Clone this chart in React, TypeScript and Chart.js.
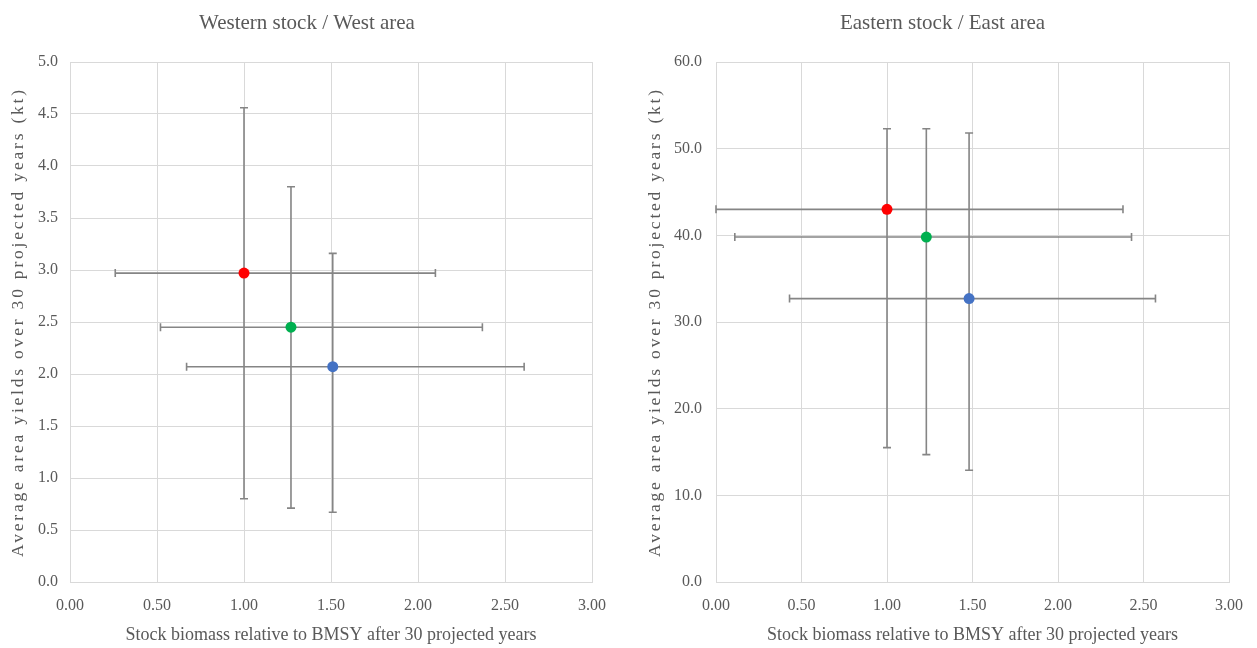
import React, { useEffect, useRef } from "react";
import { Chart, registerables } from "chart.js";

Chart.register(...registerables);

// ---------- data ----------
const seriesColors = ["#ff0000", "#00b050", "#4472c4"];

const westX = [1.0, 1.27, 1.51];
const westY = [2.97, 2.45, 2.07];
const westXLow = [0.26, 0.52, 0.67];
const westXHigh = [2.1, 2.37, 2.61];
const westYLow = [0.8, 0.71, 0.67];
const westYHigh = [4.56, 3.8, 3.16];

const eastX = [1.0, 1.23, 1.48];
const eastY = [43.0, 39.8, 32.7];
const eastXLow = [0.0, 0.11, 0.43];
const eastXHigh = [2.38, 2.43, 2.57];
const eastYLow = [15.5, 14.7, 12.9];
const eastYHigh = [52.3, 52.3, 51.8];

const xAxisTitle = "Stock biomass relative to BMSY after 30 projected years";
const yAxisTitle = "Average area yields over 30 projected years (kt)";
const westTitle = "Western stock / West area";
const eastTitle = "Eastern stock / East area";

const FONT = "'Liberation Serif', 'Times New Roman', serif";
const TEXT = "#595959";
const GRID = "#d9d9d9";
const ERR = "#858585";

type Props = {
  left: number;
  width: number;
  title: string;
  xs: number[];
  ys: number[];
  xLow: number[];
  xHigh: number[];
  yLow: number[];
  yHigh: number[];
  yMax: number;
  yStep: number;
  yAxisWidth: number;
  rightPad: number;
  rightGap: number;
  yTickPad: number;
  yTitleX: number;
};

function ErrorScatter(p: Props) {
  const ref = useRef<HTMLCanvasElement | null>(null);

  useEffect(() => {
    if (!ref.current) return;

    const errorBars = {
      id: "errorBars",
      beforeDatasetsDraw(chart: any) {
        const { ctx } = chart;
        const xs = chart.scales.x;
        const ys = chart.scales.y;
        const cap = 4;
        ctx.save();
        ctx.strokeStyle = ERR;
        ctx.lineWidth = 1.6;
        for (let i = 0; i < p.xs.length; i++) {
          const px = xs.getPixelForValue(p.xs[i]);
          const py = ys.getPixelForValue(p.ys[i]);
          const x0 = xs.getPixelForValue(p.xLow[i]);
          const x1 = xs.getPixelForValue(p.xHigh[i]);
          const y0 = ys.getPixelForValue(p.yLow[i]);
          const y1 = ys.getPixelForValue(p.yHigh[i]);
          ctx.beginPath();
          ctx.moveTo(x0, py);
          ctx.lineTo(x1, py);
          ctx.moveTo(x0, py - cap);
          ctx.lineTo(x0, py + cap);
          ctx.moveTo(x1, py - cap);
          ctx.lineTo(x1, py + cap);
          ctx.moveTo(px, y0);
          ctx.lineTo(px, y1);
          ctx.moveTo(px - cap, y0);
          ctx.lineTo(px + cap, y0);
          ctx.moveTo(px - cap, y1);
          ctx.lineTo(px + cap, y1);
          ctx.stroke();
        }
        ctx.restore();
      },
    };

    const yTitle = {
      id: "yTitle",
      afterDraw(chart: any) {
        const { ctx, chartArea } = chart;
        ctx.save();
        ctx.translate(p.yTitleX, (chartArea.top + chartArea.bottom) / 2);
        ctx.rotate(-Math.PI / 2);
        ctx.font = `17.5px ${FONT}`;
        (ctx as any).letterSpacing = "2.8px";
        ctx.fillStyle = TEXT;
        ctx.textAlign = "center";
        ctx.textBaseline = "middle";
        ctx.fillText(yAxisTitle, 0, 0);
        ctx.restore();
      },
    };

    const chart = new Chart(ref.current, {
      type: "scatter",
      data: {
        datasets: p.xs.map((x, i) => ({
          label: "s" + i,
          data: [{ x, y: p.ys[i] }],
          backgroundColor: seriesColors[i],
          borderColor: seriesColors[i],
          pointRadius: 5.5,
          pointHoverRadius: 5.5,
          borderWidth: 0,
        })),
      },
      options: {
        responsive: false,
        animation: false,
        devicePixelRatio: 1,
        layout: { padding: { left: 0, right: p.rightPad, top: 0, bottom: 0 } },
        plugins: {
          legend: { display: false },
          tooltip: { enabled: false },
          title: {
            display: true,
            text: p.title,
            color: TEXT,
            font: { family: FONT, size: 21, weight: "normal" as any },
            padding: { top: 11, bottom: 25.8 },
          },
        },
        scales: {
          x: {
            type: "linear",
            min: 0,
            max: 3,
            afterFit(scale: any) {
              scale.height = 66;
            },
            border: { display: true, color: GRID },
            grid: { color: GRID, drawTicks: false, lineWidth: 1 },
            ticks: {
              stepSize: 0.5,
              padding: 14,
              color: TEXT,
              font: { family: FONT, size: 16 },
              callback: (v: any) => Number(v).toFixed(2),
            },
            title: {
              display: true,
              text: xAxisTitle,
              color: TEXT,
              font: { family: FONT, size: 18 },
              padding: { top: 0, bottom: 2 },
            },
          },
          y: {
            type: "linear",
            min: 0,
            max: p.yMax,
            afterFit(scale: any) {
              scale.width = p.yAxisWidth;
            },
            border: { display: true, color: GRID },
            grid: { color: GRID, drawTicks: false, lineWidth: 1 },
            ticks: {
              stepSize: p.yStep,
              padding: p.yTickPad,
              color: TEXT,
              font: { family: FONT, size: 16 },
              callback: (v: any) => Number(v).toFixed(1),
            },
          },
          gap: {
            type: "linear",
            position: "right",
            display: true,
            afterFit(scale: any) {
              scale.width = p.rightGap;
            },
            border: { display: false },
            grid: { display: false, drawOnChartArea: false },
            ticks: { display: false },
          },
        },
      },
      plugins: [errorBars, yTitle],
    });

    return () => chart.destroy();
  }, []);

  return (
    <div style={{ position: "absolute", left: p.left, top: 0, width: p.width, height: 648 }}>
      <canvas ref={ref} width={p.width} height={648} style={{ width: p.width, height: 648, display: "block" }} />
    </div>
  );
}

export default function App() {
  return (
    <div style={{ position: "fixed", left: 0, top: 0, width: 1257, height: 648, background: "#ffffff" }}>
      <ErrorScatter
        left={0}
        width={628}
        title={westTitle}
        xs={westX}
        ys={westY}
        xLow={westXLow}
        xHigh={westXHigh}
        yLow={westYLow}
        yHigh={westYHigh}
        yMax={5}
        yStep={0.5}
        yAxisWidth={70}
        rightPad={14}
        rightGap={22}
        yTickPad={12}
        yTitleX={18}
      />
      <ErrorScatter
        left={628}
        width={629}
        title={eastTitle}
        xs={eastX}
        ys={eastY}
        xLow={eastXLow}
        xHigh={eastXHigh}
        yLow={eastYLow}
        yHigh={eastYHigh}
        yMax={60}
        yStep={10}
        yAxisWidth={88}
        rightPad={0}
        rightGap={28}
        yTickPad={14}
        yTitleX={27}
      />
    </div>
  );
}
